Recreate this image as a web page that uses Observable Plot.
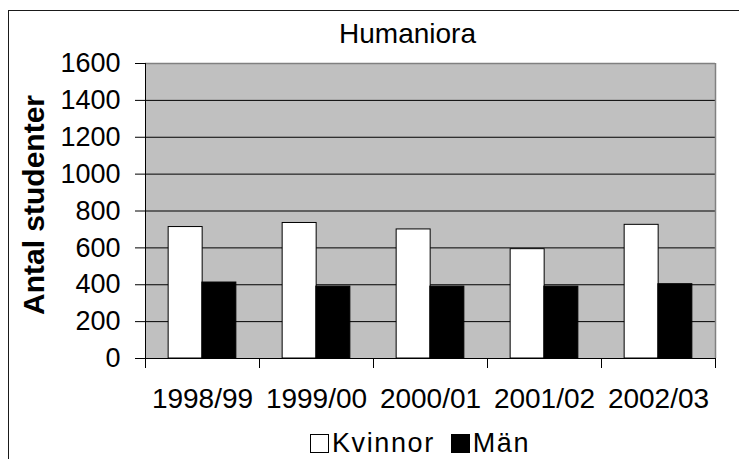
<!DOCTYPE html>
<html>
<head>
<meta charset="utf-8">
<script src="https://cdn.jsdelivr.net/npm/d3@7"></script>
<script src="https://cdn.jsdelivr.net/npm/@observablehq/plot@0.6"></script>
<style>
  html, body { margin: 0; padding: 0; background: #fff; overflow: hidden; }
  #wrap { position: relative; width: 739px; height: 459px; overflow: hidden; font-family: "Liberation Sans", Arial, sans-serif; }
  #border { position: absolute; left: 8px; top: 10px; width: 800px; height: 500px; border: 1.5px solid #1a1a1a; box-sizing: border-box; }
  #title { position: absolute; left: 0; width: 815px; top: 18px; text-align: center; font-size: 28px; color: #000; line-height: 32px; }
  #chart { position: absolute; left: 0; top: 0; }
  #legend { position: absolute; top: 428px; left: 310px; height: 30px; display: flex; align-items: center; font-size: 27px; letter-spacing: 1.6px; color: #000; }
  .sw { display: inline-block; width: 17px; height: 17px; border: 1.5px solid #000; margin-right: 3px; }
  .item { display: flex; align-items: center; margin-right: 16px; }
</style>
</head>
<body>
<div id="wrap">
  <div id="border"></div>
  <div id="title"></div>
  <div id="chart"></div>
  <div id="legend"></div>
</div>
<script>
const title = "Humaniora";
const yLabel = "Antal studenter";
const years = ["1998/99", "1999/00", "2000/01", "2001/02", "2002/03"];
const seriesNames = ["Kvinnor", "Män"];
const kvinnor = [713, 735, 700, 593, 725];
const man = [412, 390, 390, 390, 403];
const yTicks = [0, 200, 400, 600, 800, 1000, 1200, 1400, 1600];
const seriesFill = ["#ffffff", "#000000"];

const W = 739, H = 459;
const mL = 145, mR = 24, mT = 63, mB = 101;
const step = (W - mL - mR) / years.length;
const halfStep = step / 2;
const barW = 33.7;

const data = years.map((y, i) => ({year: y, kvinnor: kvinnor[i], man: man[i]}));

const chart = Plot.plot({
  width: W,
  height: H,
  marginLeft: mL,
  marginRight: mR,
  marginTop: mT,
  marginBottom: mB,
  style: {fontFamily: "'Liberation Sans', Arial, sans-serif", background: "transparent", color: "#000"},
  x: {domain: years, paddingInner: 1 - barW / step, paddingOuter: (1 - barW / step) / 2},
  y: {domain: [0, 1600]},
  marks: [
    Plot.frame({fill: "#c0c0c0", stroke: null}),
    Plot.ruleY(yTicks.filter(t => t > 0 && t < 1600), {stroke: "#000", strokeWidth: 1}),
    Plot.ruleY([1600], {stroke: "#808080", strokeWidth: 1.5}),
    Plot.ruleX([years[years.length - 1]], {dx: halfStep, stroke: "#808080", strokeWidth: 1.5}),
    Plot.barY(data, {x: "year", y: "kvinnor", fill: seriesFill[0], stroke: "#000", strokeWidth: 1, dx: -barW / 2}),
    Plot.barY(data, {x: "year", y: "man", fill: seriesFill[1], stroke: "#000", strokeWidth: 1, dx: barW / 2}),
    Plot.ruleX([years[0]], {dx: -halfStep, stroke: "#000", strokeWidth: 1}),
    Plot.ruleY([0], {stroke: "#000", strokeWidth: 1}),
    Plot.ruleX(years, {x: d => d, dx: -halfStep, y1: 0, y2: 0, insetBottom: -10, stroke: "#000"}),
    Plot.ruleX([years[years.length - 1]], {x: d => d, dx: halfStep, y1: 0, y2: 0, insetBottom: -10, stroke: "#000"}),
    Plot.axisY({ticks: yTicks, tickSize: 10, tickPadding: 15, fontSize: 27, tickFormat: d => String(d), label: null, stroke: "#000"}),
    Plot.axisX({tickSize: 0, tickPadding: 30, fontSize: 28, label: null, style: {letterSpacing: "0.3px"}}),
    Plot.text([yLabel], {text: d => d, frameAnchor: "left", textAnchor: "middle", rotate: -90, dx: 34 - mL, dy: -6, fontSize: 30, fontWeight: "bold", fill: "#000"})
  ]
});
document.getElementById("chart").appendChild(chart);
document.getElementById("title").textContent = title;

const legend = document.getElementById("legend");
seriesNames.forEach((name, i) => {
  const item = document.createElement("div");
  item.className = "item";
  const sw = document.createElement("span");
  sw.className = "sw";
  sw.style.background = seriesFill[i];
  const t = document.createElement("span");
  t.textContent = name;
  item.appendChild(sw);
  item.appendChild(t);
  legend.appendChild(item);
});
</script>
</body>
</html>
